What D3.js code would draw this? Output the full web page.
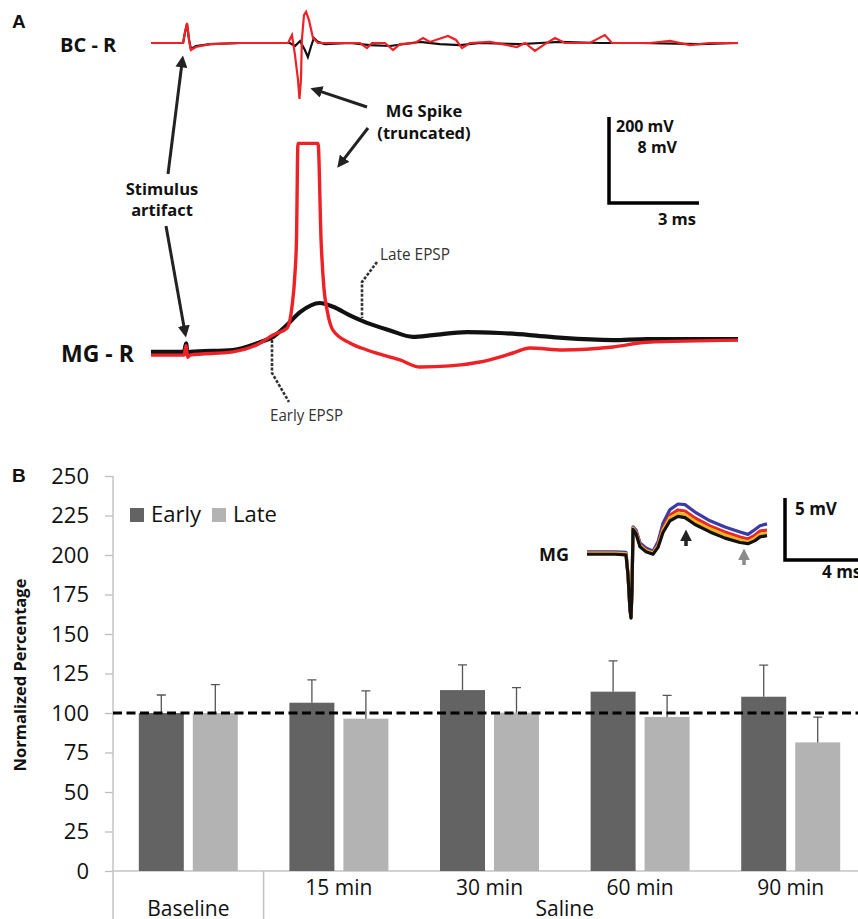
<!DOCTYPE html>
<html>
  <head>
    <meta charset="utf-8">
    <title>MG-R recordings</title>
    <script src="https://cdn.jsdelivr.net/npm/d3@7"></script>
    <style>
      body { margin: 0; background: #fff; }
      svg { display: block; }
      text { font-family: "Open Sans", sans-serif; fill: #111; }
    </style>
  </head>
  <body>
    <svg id="chart" width="858" height="919"></svg>

    <script>
      // ---- data: panel A traces, [time ms, mV]
      bcBlack = [[0,0],[1.07,0],[1.13,0.93],[1.2,1.77],[1.27,0.28],[1.33,-0.56],[1.5,-0.28],[1.97,-0.1],[2.97,0],[4.63,0],[4.8,-0.28],[4.97,0.19],[5.13,-0.65],[5.23,-1.3],[5.33,-0.37],[5.43,0.47],[5.57,0.1],[5.8,-0.1],[6.63,0],[7.3,-0.2],[7.97,-0.28],[8.97,0.1],[9.63,-0.1],[10.3,-0.2],[10.97,0],[12.3,-0.1],[12.97,0],[13.63,0.1],[14.97,0],[16.3,0],[18.3,-0.1],[19.57,0]];
      bcRed = [[0,0],[1.07,0],[1.13,0.93],[1.2,1.86],[1.27,0.28],[1.33,-0.65],[1.5,-0.37],[1.97,-0.1],[2.97,0],[4.57,0],[4.7,0.74],[4.8,-1.1],[4.9,-3.4],[4.95,-5.2],[5.0,-3.4],[5.03,0.28],[5.1,2.6],[5.17,2.9],[5.27,2.1],[5.4,0.47],[5.57,0],[6.97,0],[7.2,-0.47],[7.37,0],[7.8,0],[8.07,-0.65],[8.3,-0.1],[8.8,0],[9.07,0.47],[9.3,0.1],[9.9,0.65],[10.17,0.28],[10.37,-0.47],[10.63,0],[11.3,0.1],[12.2,-0.37],[12.47,0],[12.8,-0.74],[13.13,-0.1],[13.47,0.47],[13.8,0],[14.63,0],[15.13,0.74],[15.37,0],[16.63,0],[17.3,0.19],[17.97,-0.19],[18.63,0],[19.57,0]];
      mgBlack = [[0,0.1],[1.1,0.1],[1.17,0.9],[1.22,-0.2],[1.3,0.1],[2.73,0.28],[3.63,1.0],[4.07,1.5],[4.53,2.6],[4.97,3.8],[5.63,4.65],[6.07,4.3],[6.63,3.5],[7.2,2.8],[7.97,2.1],[8.73,1.5],[9.4,1.67],[10.53,1.95],[11.63,1.86],[12.63,1.67],[13.73,1.4],[15.4,1.2],[16.53,1.3],[19.57,1.3]];
      mgRed = [[0,-0.2],[1.1,-0.2],[1.17,0.7],[1.22,-0.4],[1.3,-0.2],[2.73,0.1],[3.63,0.9],[4.07,1.67],[4.53,2.3],[4.7,4.3],[4.8,7.4],[4.85,10.5],[4.9,19.5],[5.57,19.5],[5.67,10.5],[5.77,5.9],[5.87,4.0],[6.07,2.1],[6.63,0.93],[7.2,0.28],[8.3,-0.65],[8.97,-1.3],[9.97,-1.2],[10.97,-0.84],[12.07,0],[12.63,0.47],[13.73,0.28],[15.4,0.56],[16.53,1.0],[19.57,1.2]];

      // ---- data: panel B inset traces
      insetTime = [0,0.65,1.4,1.95,2.05,2.15,2.2,2.25,2.3,2.45,2.65,2.95,3.3,3.55,3.8,4.15,4.55,4.9,5.4,6.15,6.9,7.65,8.05,8.4,8.65,9.0];
      insetBlue = [0.1,0.1,0.1,0.05,-1.7,-4.5,-5.1,-2.9,2.1,1.85,0.8,0.4,0.15,0.9,2.4,3.5,3.95,3.9,3.3,2.6,2.1,1.7,1.5,1.9,2.2,2.35];
      insetRed = [0,0,0,-0.08,-1.77,-4.6,-5.2,-3.0,2.0,1.7,0.65,0.24,0,0.65,2.0,3.06,3.47,3.39,2.82,2.18,1.7,1.29,1.13,1.45,1.77,1.85];
      insetYellow = [0,0,0,-0.05,-1.75,-4.55,-5.15,-2.95,2.0,1.65,0.6,0.2,0,0.6,1.85,2.85,3.2,3.1,2.55,1.95,1.45,1.05,0.9,1.2,1.5,1.6];
      insetBlack = [-0.1,-0.1,-0.1,-0.15,-1.8,-4.6,-5.25,-3.0,1.9,1.55,0.5,0.1,-0.1,0.45,1.65,2.6,2.95,2.85,2.3,1.7,1.2,0.85,0.75,1.0,1.3,1.4];

      // ---- data: panel B bars
      groups = ["Baseline", "15 min", "30 min", "60 min", "90 min"];
      series = ["Early", "Late"];
      earlyMean = [100, 106.5, 114.5, 113.5, 110.3];
      earlyErr = [11.4, 14.5, 16, 19.5, 20];
      lateMean = [100, 96.4, 100.2, 97.5, 81.4];
      lateErr = [18, 17.6, 15.8, 13.7, 16];
      yTicks = [0, 25, 50, 75, 100, 125, 150, 175, 200, 225, 250];

      svg = d3.select("#chart");

      // arrow heads
      defs = svg.append("defs");
      [["headDark", "#222"], ["headGrey", "#8a8a8a"]].forEach(function(m) {
        defs.append("marker")
          .attr("id", m[0])
          .attr("viewBox", "0 0 10 10")
          .attr("refX", 2)
          .attr("refY", 5)
          .attr("markerUnits", "userSpaceOnUse")
          .attr("markerWidth", 12)
          .attr("markerHeight", 12)
          .attr("orient", "auto")
          .append("path")
            .attr("d", "M0,0 L10,5 L0,10 z")
            .style("fill", m[1]);
      });

      // ================= panel A =================
      xA = d3.scaleLinear().domain([0, 19.57]).range([151, 738]);
      yBC = d3.scaleLinear().domain([-8, 8]).range([129, -43]);
      yMG = d3.scaleLinear().domain([-8, 8]).range([439, 267]);

      lineBC = d3.line().x(d => xA(d[0])).y(d => yBC(d[1]));
      lineMG = d3.line().x(d => xA(d[0])).y(d => yMG(d[1])).curve(d3.curveMonotoneX);

      svg.append("path").datum(bcBlack).attr("d", lineBC)
        .style("fill", "none").style("stroke", "#111").style("stroke-width", 2.2);
      svg.append("path").datum(bcRed).attr("d", lineBC)
        .style("fill", "none").style("stroke", "#ee2226").style("stroke-width", 2.2);
      svg.append("path").datum(mgBlack).attr("d", lineMG)
        .style("fill", "none").style("stroke", "#111").style("stroke-width", 4.2);
      svg.append("path").datum(mgRed).attr("d", lineMG)
        .style("fill", "none").style("stroke", "#ee2226").style("stroke-width", 3.4)
        .style("stroke-linejoin", "round");

      // labels
      svg.append("text").attr("x", 12).attr("y", 28).text("A")
        .style("font-family", "Liberation Sans, Arial, sans-serif").style("font-weight", "bold").style("font-size", "19px");
      svg.append("text").attr("x", 60).attr("y", 52).text("BC - R")
        .style("font-weight", "bold").style("font-size", "20px");
      svg.append("text").attr("x", 61).attr("y", 362).text("MG - R")
        .style("font-weight", "bold").style("font-size", "23px");

      function boldLabel(x, y, s) {
        svg.append("text").attr("x", x).attr("y", y).text(s)
          .attr("text-anchor", "middle")
          .style("font-weight", "bold").style("font-size", "16.5px");
      }
      boldLabel(162, 195, "Stimulus");
      boldLabel(162, 216, "artifact");
      boldLabel(424, 117, "MG Spike");
      boldLabel(424, 139, "(truncated)");

      function arrow(x1, y1, x2, y2, head, colour, w) {
        // stop the shaft short so the marker tip lands on (x2, y2)
        let len = Math.hypot(x2 - x1, y2 - y1);
        let k = (len - 10) / len;
        svg.append("line")
          .attr("x1", x1).attr("y1", y1)
          .attr("x2", x1 + (x2 - x1) * k).attr("y2", y1 + (y2 - y1) * k)
          .style("stroke", colour).style("stroke-width", w)
          .attr("marker-end", "url(#" + head + ")");
      }
      arrow(168, 174, 183, 55, "headDark", "#222", 3);
      arrow(166, 226, 186, 338, "headDark", "#222", 3);
      arrow(367, 107, 310, 88, "headDark", "#222", 3);
      arrow(368, 128, 337, 168, "headDark", "#222", 3);

      // EPSP leaders
      svg.append("path").attr("d", "M377,262 L362,282 L362,318")
        .style("fill", "none").style("stroke", "#333").style("stroke-width", 2.6).style("stroke-dasharray", "3,1.6");
      svg.append("path").attr("d", "M272,340 L272,373 L289,402")
        .style("fill", "none").style("stroke", "#333").style("stroke-width", 2.6).style("stroke-dasharray", "3,1.6");
      svg.append("text").attr("x", 380).attr("y", 260).text("Late EPSP")
        .attr("textLength", 70).attr("lengthAdjust", "spacingAndGlyphs")
        .style("font-size", "16px").style("fill", "#333");
      svg.append("text").attr("x", 270).attr("y", 421).text("Early EPSP")
        .attr("textLength", 73).attr("lengthAdjust", "spacingAndGlyphs")
        .style("font-size", "16px").style("fill", "#333");

      // scale bar A: 3 ms and 8 mV (200 mV for BC)
      sbX = 609;
      sbY = 203;
      svg.append("path")
        .attr("d", "M" + sbX + "," + (sbY - (yMG(0) - yMG(8))) + " L" + sbX + "," + sbY +
          " L" + (sbX + xA(3) - xA(0)) + "," + sbY)
        .style("fill", "none").style("stroke", "#000").style("stroke-width", 3.5);
      svg.append("text").attr("x", 616).attr("y", 132).text("200 mV")
        .style("font-weight", "bold").style("font-size", "16px");
      svg.append("text").attr("x", 677).attr("y", 153).text("8 mV").attr("text-anchor", "end")
        .style("font-weight", "bold").style("font-size", "16px");
      svg.append("text").attr("x", 696).attr("y", 225).text("3 ms").attr("text-anchor", "end")
        .style("font-weight", "bold").style("font-size", "16.5px");

      // ================= panel B =================
      x0 = d3.scaleBand().domain(groups).range([113, 866]);
      x1 = d3.scaleBand().domain(series).range([0, x0.bandwidth()]).paddingInner(0.167).paddingOuter(0.478);
      yB = d3.scaleLinear().domain([0, 250]).range([871, 476]);

      svg.append("text").attr("x", 12).attr("y", 482).text("B")
        .style("font-family", "Liberation Sans, Arial, sans-serif").style("font-weight", "bold").style("font-size", "19px");

      yAxis = svg.append("g")
        .attr("transform", "translate(113,0)")
        .call(d3.axisLeft(yB).tickValues(yTicks).tickSize(8).tickSizeOuter(0).tickPadding(16));
      yAxis.select(".domain").remove();
      yAxis.selectAll(".tick line").style("stroke", "#bdbdbd").style("stroke-width", 1.3);
      yAxis.selectAll(".tick text")
        .style("font-family", "Open Sans, sans-serif").style("font-size", "22px").style("fill", "#111");

      axisCol = "#c4c4c4";
      svg.append("line").attr("x1", 113).attr("x2", 113).attr("y1", yB(250)).attr("y2", 919)
        .style("stroke", axisCol).style("stroke-width", 1.5);
      svg.append("line").attr("x1", 113).attr("x2", 858).attr("y1", yB(0)).attr("y2", yB(0))
        .style("stroke", axisCol).style("stroke-width", 1.5);
      svg.append("line").attr("x1", x0("15 min")).attr("x2", x0("15 min")).attr("y1", yB(0)).attr("y2", 919)
        .style("stroke", axisCol).style("stroke-width", 1.5);

      svg.append("text")
        .attr("transform", "translate(26,675) rotate(-90)")
        .attr("text-anchor", "middle")
        .text("Normalized Percentage")
        .style("font-weight", "bold").style("font-size", "16.5px");

      barRows = groups.map((g, i) => ({
        group: g,
        vals: [
          { key: "Early", mean: earlyMean[i], err: earlyErr[i] },
          { key: "Late", mean: lateMean[i], err: lateErr[i] }
        ]
      }));
      colour = d3.scaleOrdinal().domain(series).range(["#636363", "#b3b3b3"]);

      grp = svg.selectAll(".grp").data(barRows).enter().append("g")
        .attr("transform", d => "translate(" + x0(d.group) + ",0)");
      bars = grp.selectAll(".bar").data(d => d.vals).enter();
      bars.append("rect")
        .attr("x", d => x1(d.key))
        .attr("width", x1.bandwidth())
        .attr("y", d => yB(d.mean))
        .attr("height", d => yB(0) - yB(d.mean))
        .style("fill", d => colour(d.key));
      bars.append("path")
        .attr("d", d => {
          let cx = x1(d.key) + x1.bandwidth() / 2;
          return "M" + cx + "," + yB(d.mean) + " L" + cx + "," + yB(d.mean + d.err) +
            " M" + (cx - 4.5) + "," + yB(d.mean + d.err) + " L" + (cx + 4.5) + "," + yB(d.mean + d.err);
        })
        .style("fill", "none").style("stroke", "#555").style("stroke-width", 1.3);

      // reference line at 100 %
      svg.append("line").attr("x1", 113).attr("x2", 858).attr("y1", yB(100)).attr("y2", yB(100))
        .style("stroke", "#000").style("stroke-width", 3).style("stroke-dasharray", "9,4.5");

      // category labels
      svg.selectAll(".sub").data(groups.slice(1)).enter().append("text")
        .attr("x", d => x0(d) + x0.bandwidth() / 2)
        .attr("y", 895)
        .attr("text-anchor", "middle")
        .text(d => d)
        .style("font-size", "21px");
      svg.append("text").attr("x", x0("Baseline") + x0.bandwidth() / 2).attr("y", 916)
        .attr("text-anchor", "middle").text("Baseline").style("font-size", "21px");
      svg.append("text").attr("x", (x0("15 min") + x0("90 min") + x0.bandwidth()) / 2).attr("y", 916)
        .attr("text-anchor", "middle").text("Saline").style("font-size", "21px");

      // legend
      legend = svg.selectAll(".leg").data(series).enter().append("g")
        .attr("transform", (d, i) => "translate(" + [130, 212][i] + ",508)");
      legend.append("rect").attr("width", 14).attr("height", 14).style("fill", d => colour(d));
      legend.append("text").attr("x", 21).attr("y", 14).text(d => d).style("font-size", "22px");

      // inset traces
      xI = d3.scaleLinear().domain([0, 9]).range([587, 767]);
      yI = d3.scaleLinear().domain([0, 5]).range([553, 491]);
      lineI = d3.line().x((d, i) => xI(insetTime[i])).y(d => yI(d));
      [[insetBlue, "#3b3ba6"], [insetRed, "#e8262b"], [insetYellow, "#f2b51c"], [insetBlack, "#111"]]
        .forEach(function(t) {
          svg.append("path").datum(t[0]).attr("d", lineI)
            .style("fill", "none").style("stroke", t[1]).style("stroke-width", 3.2)
            .style("stroke-linejoin", "round");
        });
      svg.append("text").attr("x", 539).attr("y", 561).text("MG")
        .style("font-weight", "bold").style("font-size", "18px");

      arrow(686, 546, 686, 529, "headDark", "#222", 3.5);
      arrow(744, 565, 744, 548, "headGrey", "#8a8a8a", 3.5);

      // inset scale bar: 5 mV, 4 ms
      svg.append("path")
        .attr("d", "M785," + yI(5 - 0.56) + " L785," + (yI(0) + 7) + " L" + (785 + xI(4) - xI(0)) + "," + (yI(0) + 7))
        .style("fill", "none").style("stroke", "#000").style("stroke-width", 3.5);
      svg.append("text").attr("x", 795).attr("y", 515).text("5 mV")
        .style("font-weight", "bold").style("font-size", "17px");
      svg.append("text").attr("x", 822).attr("y", 578).text("4 ms")
        .style("font-weight", "bold").style("font-size", "17px");
    </script>
  </body>
</html>
